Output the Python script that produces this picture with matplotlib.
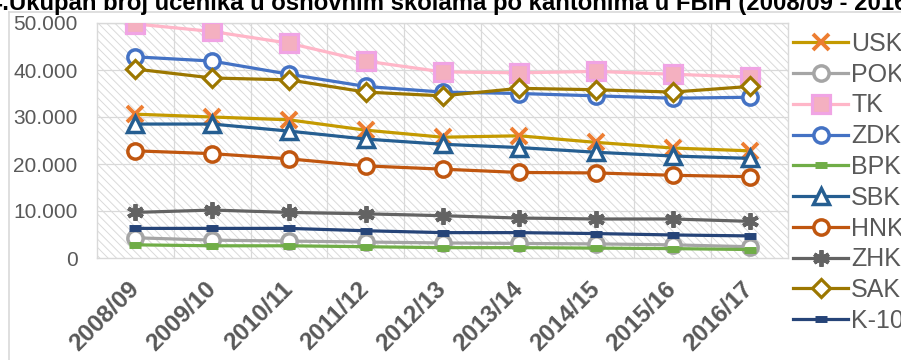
import matplotlib
matplotlib.use("Agg")
import matplotlib.pyplot as plt
from matplotlib.patches import Rectangle
from matplotlib.ticker import FuncFormatter, MultipleLocator

plt.rcParams['font.family'] = ['Liberation Sans', 'DejaVu Sans']
plt.rcParams['hatch.linewidth'] = 0.7
plt.rcParams['hatch.color'] = '#DADADA'

years = ["2008/09", "2009/10", "2010/11", "2011/12", "2012/13",
         "2013/14", "2014/15", "2015/16", "2016/17"]

USK = [30600, 30000, 29400, 27200, 25700, 26000, 24600, 23400, 22800]
POK = [4300, 3800, 3600, 3400, 3200, 3100, 3000, 2800, 2400]
TK = [49800, 48200, 45700, 41900, 39600, 39400, 39700, 39100, 38500]
ZDK = [42800, 41900, 39100, 36500, 35300, 35000, 34500, 34000, 34200]
BPK = [2800, 2600, 2600, 2400, 2200, 2200, 2100, 2000, 1800]
SBK = [28500, 28500, 27000, 25300, 24200, 23500, 22500, 21700, 21200]
HNK = [22800, 22200, 21100, 19600, 18900, 18200, 18100, 17600, 17300]
ZHK = [9700, 10200, 9700, 9400, 9000, 8500, 8300, 8300, 7800]
SAK = [40200, 38300, 37900, 35300, 34500, 36100, 35800, 35300, 36500]
K10 = [6300, 6300, 6300, 5800, 5400, 5400, 5200, 4900, 4700]

title = "4.Ukupan broj učenika u osnovnim školama po kantonima u FBiH (2008/09 - 2016/17)"

fig = plt.figure(figsize=(9.01, 3.60), dpi=100)
ax = fig.add_axes([97/901, 1-258/360, (788-97)/901, (258-23)/360])

# outer chart border
fig.add_artist(plt.Line2D([9/901, 9/901], [0, 1-12/360], transform=fig.transFigure,
                          color='#D9D9D9', lw=1.2))
fig.add_artist(plt.Line2D([9/901, 1], [1-12/360, 1-12/360], transform=fig.transFigure,
                          color='#D9D9D9', lw=1.2))

x = list(range(len(years)))
ax.set_xlim(-0.5, len(years) - 0.5)
ax.set_ylim(0, 50000)

ax.add_patch(Rectangle((0, 0), 1, 1, transform=ax.transAxes, facecolor='white',
                       hatch='\\\\\\\\', edgecolor='#DADADA', lw=0, zorder=0))

for xb in [i + 0.5 for i in range(len(years) - 1)]:
    ax.axvline(xb, color='#D9D9D9', lw=0.9, zorder=0.5)
for yv in range(10000, 50001, 10000):
    ax.axhline(yv, color='#D9D9D9', lw=0.9, zorder=0.5)

lw = 2.3
series = [
    ("USK", USK, dict(color='#C49A00', marker='x', ms=11, mec='#ED7D31', mew=2.8)),
    ("POK", POK, dict(color='#A5A5A5', marker='o', ms=11, mfc='white', mec='#A5A5A5', mew=2.5)),
    ("TK", TK, dict(color='#FFB6C8', marker='s', ms=12.5, mfc='#F4B0C0', mec='#F0A4E4', mew=2.3)),
    ("ZDK", ZDK, dict(color='#4472C4', marker='o', ms=11, mfc='white', mec='#4472C4', mew=2.5)),
    ("BPK", BPK, dict(color='#70AD47', marker='_', ms=9, mec='#70AD47', mew=5)),
    ("SBK", SBK, dict(color='#255E91', marker='^', ms=11, mfc='white', mec='#255E91', mew=2.5)),
    ("HNK", HNK, dict(color='#C0560F', marker='o', ms=11, mfc='white', mec='#C0560F', mew=2.5)),
    ("ZHK", ZHK, dict(color='#636363', marker=(6, 2, 0), ms=12, mec='#636363', mew=2.8)),
    ("SAK", SAK, dict(color='#9C7700', marker='D', ms=9, mfc='white', mec='#9C7700', mew=2.3)),
    ("K-10", K10, dict(color='#264478', marker='_', ms=9, mec='#264478', mew=5)),
]
for i, (name, vals, st) in enumerate(series):
    ax.plot(x, vals, lw=lw, label=name, zorder=2 + i, **st)

ax.yaxis.set_major_locator(MultipleLocator(10000))
ax.yaxis.set_major_formatter(FuncFormatter(lambda v, p: f"{int(v):,}".replace(",", ".")))
ax.set_xticks(x)
ax.set_xticklabels(years, rotation=45, ha='right', va='center', rotation_mode='anchor',
                   fontweight='bold', fontsize=17.5, color='#595959')
ax.tick_params(axis='y', length=0, pad=14, labelsize=15, labelcolor='#595959')
ax.tick_params(axis='x', length=0, pad=20)
for s in ax.spines.values():
    s.set_color('#D9D9D9')
    s.set_linewidth(1.0)

leg = fig.legend(loc='upper left', bbox_to_anchor=(793/901, 1-32/360), frameon=False,
                 fontsize=18, handlelength=2.2, handletextpad=0.12, labelspacing=0.27,
                 borderaxespad=0, borderpad=0)
for t in leg.get_texts():
    t.set_color('#595959')

fig.text(-11/901, 1-10/360, title, fontsize=17.2, fontweight='bold', color='black',
         ha='left', va='baseline')

fig.savefig("out.png", dpi=100)
